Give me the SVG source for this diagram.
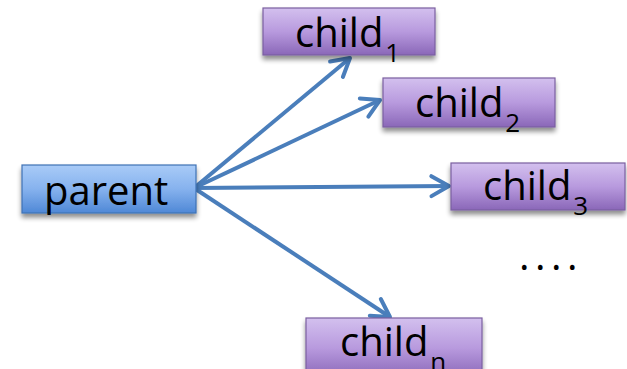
<svg xmlns="http://www.w3.org/2000/svg" width="627" height="369" viewBox="0 0 627 369">
<defs>
<linearGradient id="gp" x1="0" y1="0" x2="0" y2="1">
<stop offset="0" stop-color="#d3c0ee"/><stop offset="0.5" stop-color="#b89ade"/><stop offset="1" stop-color="#8a67b8"/>
</linearGradient>
<linearGradient id="gb" x1="0" y1="0" x2="0" y2="1">
<stop offset="0" stop-color="#a9cbf7"/><stop offset="0.5" stop-color="#86b2ee"/><stop offset="1" stop-color="#4f88d6"/>
</linearGradient>
<filter id="sh" x="-10%" y="-20%" width="120%" height="160%">
<feGaussianBlur in="SourceAlpha" stdDeviation="2.5"/>
<feOffset dx="0" dy="4" result="b"/>
<feComponentTransfer><feFuncA type="linear" slope="0.45"/></feComponentTransfer>
<feMerge><feMergeNode/><feMergeNode in="SourceGraphic"/></feMerge>
</filter>
<marker id="ah" refX="4.4" refY="2.5" markerWidth="6" markerHeight="6" orient="auto" markerUnits="strokeWidth" overflow="visible">
<path d="M0,0 L4.4,2.5 L0,5" fill="none" stroke="#4a7ebb" stroke-width="1" stroke-linejoin="round" stroke-linecap="round"/>
</marker>
</defs>
<style>
.p{fill:url(#gp);stroke:#7b5fa0;stroke-width:1.2;filter:url(#sh)}
.b{fill:url(#gb);stroke:#3f72b5;stroke-width:1.2;filter:url(#sh)}
.t{font-family:"Open Sans","Liberation Sans",sans-serif;font-size:40px;fill:#000}
.s{font-size:26px}
.c{stroke:#4a7ebb;stroke-width:4;fill:none;marker-end:url(#ah)}
</style>
<g id="connectors">
<line class="c" x1="194" y1="188" x2="350" y2="58"/>
<line class="c" x1="194" y1="188" x2="380" y2="100"/>
<line class="c" x1="194" y1="188" x2="449" y2="186"/>
<line class="c" x1="194" y1="188" x2="390" y2="317"/>
</g>
<g id="parent">
<rect class="b" x="22" y="165" width="174" height="48"/>
<text class="t" x="44" y="205">parent</text>
</g>
<g id="child1">
<rect class="p" x="263" y="8" width="172" height="47"/>
<text class="t" x="295" y="47">child<tspan class="s" dx="2" dy="15">1</tspan></text>
</g>
<g id="child2">
<rect class="p" x="383" y="78" width="172" height="49"/>
<text class="t" x="415" y="117">child<tspan class="s" dx="2" dy="15">2</tspan></text>
</g>
<g id="child3">
<rect class="p" x="451" y="163" width="174" height="47"/>
<text class="t" x="483" y="200">child<tspan class="s" dx="2" dy="15">3</tspan></text>
</g>
<g id="childn">
<rect class="p" x="306" y="318" width="176" height="60"/>
<text class="t" x="340" y="356">child<tspan class="s" dx="2" dy="15">n</tspan></text>
</g>
<text class="t" x="519" y="270" letter-spacing="5.5">....</text>
</svg>
